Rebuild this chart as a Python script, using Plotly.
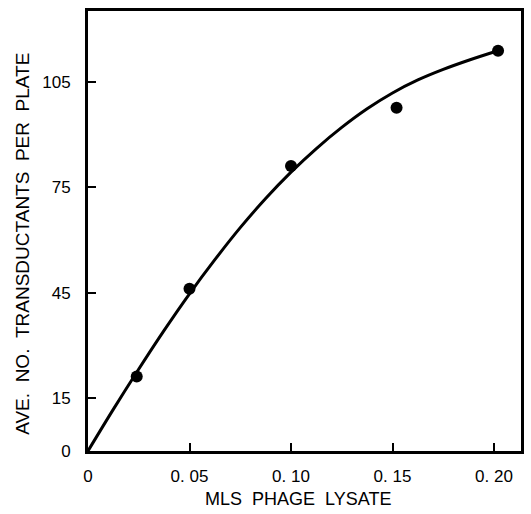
import plotly.graph_objects as go

# Measured data points
lysate_ml = [0.024, 0.050, 0.100, 0.152, 0.202]
transductants = [21.2, 46.1, 81.0, 97.6, 113.8]

# Fitted curve
curve_x = [0.0, 0.012, 0.024, 0.0375, 0.050, 0.0625, 0.075, 0.0875, 0.100,
           0.1125, 0.125, 0.1375, 0.150, 0.1625, 0.175, 0.1875, 0.2019]
curve_y = [0.0, 11.4, 22.4, 34.3, 44.7, 54.4, 63.5, 71.8, 79.3,
           86.0, 92.0, 97.3, 101.8, 105.5, 108.5, 111.1, 113.8]

x_tickvals = [0, 0.05, 0.10, 0.15, 0.20]
x_ticktext = ["0", "0. 05", "0. 10", "0. 15", "0. 20"]
y_tickvals = [0, 15, 45, 75, 105]
y_ticktext = ["0", "15", "45", "75", "105"]

FONT = "Liberation Sans, Arial, sans-serif"

fig = go.Figure()
fig.add_trace(go.Scatter(
    x=curve_x, y=curve_y, mode="lines",
    line=dict(color="black", width=3, shape="spline", smoothing=1.0),
    showlegend=False, hoverinfo="skip"))
fig.add_trace(go.Scatter(
    x=lysate_ml, y=transductants, mode="markers",
    marker=dict(color="black", size=12),
    showlegend=False))

axis_common = dict(
    showline=True, linecolor="black", linewidth=3, mirror=True,
    ticks="inside", tickcolor="black", tickwidth=2, ticklen=8,
    showgrid=False, zeroline=False,
    tickfont=dict(family=FONT, size=17, color="black"),
)

fig.update_xaxes(range=[0, 0.2133], tickvals=x_tickvals, ticktext=x_ticktext,
                 ticklabelstandoff=8, **axis_common)
fig.update_yaxes(range=[0, 125.1], tickvals=y_tickvals, ticktext=y_ticktext,
                 ticklabelstandoff=11, **axis_common)

fig.update_layout(
    width=531, height=514,
    margin=dict(l=88, r=7, t=11, b=63),
    paper_bgcolor="white", plot_bgcolor="white",
    annotations=[
        dict(text="MLS\u00a0\u00a0PHAGE\u00a0\u00a0LYSATE", xref="paper", yref="paper",
             x=0.486, y=-0.109, xanchor="center", yanchor="middle", showarrow=False,
             font=dict(family=FONT, size=18, color="black")),
        dict(text="AVE.\u00a0\u00a0NO.\u00a0\u00a0TRANSDUCTANTS\u00a0\u00a0PER\u00a0\u00a0PLATE",
             xref="paper", yref="paper",
             x=-0.151, y=0.470, xanchor="center", yanchor="middle", showarrow=False,
             textangle=-90, font=dict(family=FONT, size=19, color="black")),
    ],
)

fig.write_html("out.html", config={"displayModeBar": False},
               post_script="document.body.style.margin='0';document.body.style.overflow='hidden';")
